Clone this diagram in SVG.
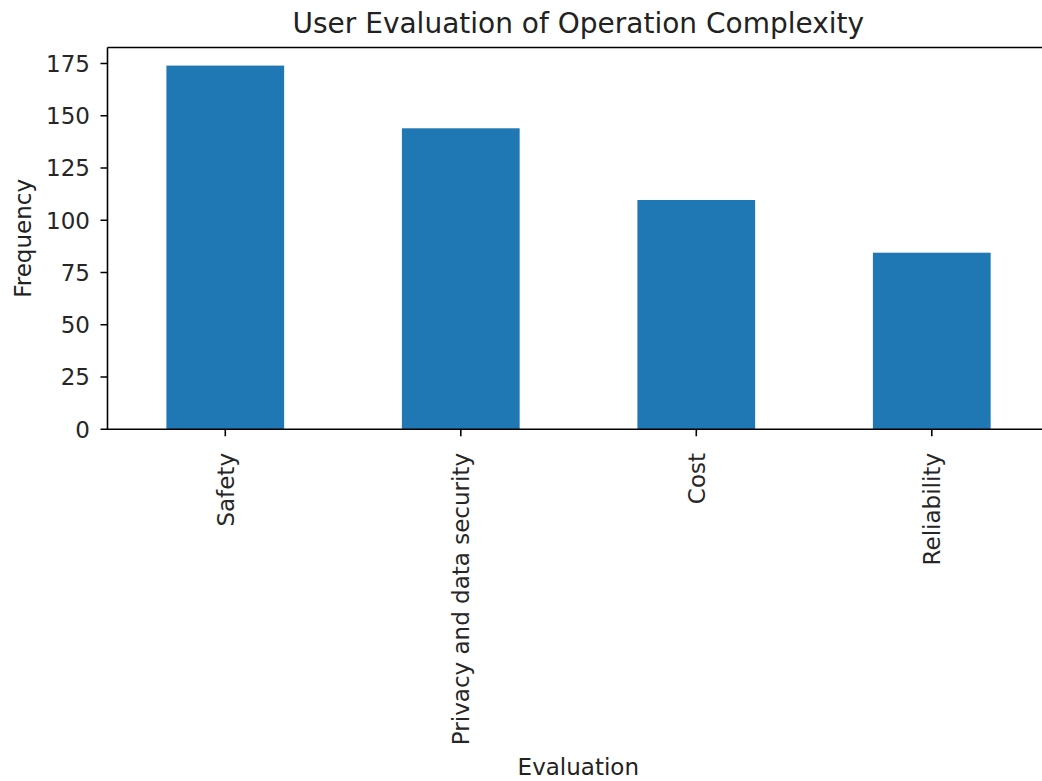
<svg xmlns="http://www.w3.org/2000/svg" width="1042" height="781" viewBox="0 0 1042 781">
<style>
text{font-family:"DejaVu Sans",sans-serif;fill:#262626}
.tk{font-size:23px;fill:#222}
.lbl{font-size:23px;fill:#222}
.ttl{font-size:28px;fill:#222}
.bar{fill:#1f77b4}
.ax{stroke:#000;stroke-width:1.6;fill:none}
</style>
<rect width="1042" height="781" fill="#fff"/>
<g id="bars">
<rect class="bar" x="166.4" y="65.6" width="117.75" height="363.7"/>
<rect class="bar" x="401.9" y="128.3" width="117.75" height="301"/>
<rect class="bar" x="637.4" y="200" width="117.75" height="229.3"/>
<rect class="bar" x="872.9" y="252.7" width="117.75" height="176.6"/>
</g>
<g id="axes" class="ax">
<path d="M107.5 47.5V429.3H1042"/>
<path d="M107.5 47.5H1042"/>
<path d="M100.5 429.3H107.5M100.5 377.05H107.5M100.5 324.8H107.5M100.5 272.55H107.5M100.5 220.3H107.5M100.5 168.05H107.5M100.5 115.8H107.5M100.5 63.55H107.5"/>
<path d="M225.3 429.3V436.3M460.8 429.3V436.3M696.3 429.3V436.3M931.8 429.3V436.3"/>
</g>
<g id="yticks" class="tk" text-anchor="end">
<text x="90" y="437.5">0</text>
<text x="90" y="385.2">25</text>
<text x="90" y="333">50</text>
<text x="90" y="280.7">75</text>
<text x="90" y="228.5">100</text>
<text x="90" y="176.2">125</text>
<text x="90" y="124">150</text>
<text x="90" y="71.7">175</text>
</g>
<g id="xticks" class="tk" text-anchor="end">
<text transform="translate(233.5,453) rotate(-90)">Safety</text>
<text transform="translate(469,453) rotate(-90)">Privacy and data security</text>
<text transform="translate(704.5,453) rotate(-90)">Cost</text>
<text transform="translate(940,453) rotate(-90)">Reliability</text>
</g>
<text id="ylabel" class="lbl" text-anchor="middle" transform="translate(31,238.4) rotate(-90)">Frequency</text>
<text id="xlabel" class="lbl" x="578.3" y="775" text-anchor="middle">Evaluation</text>
<text id="title" class="ttl" x="578.3" y="33" text-anchor="middle">User Evaluation of Operation Complexity</text>
</svg>
